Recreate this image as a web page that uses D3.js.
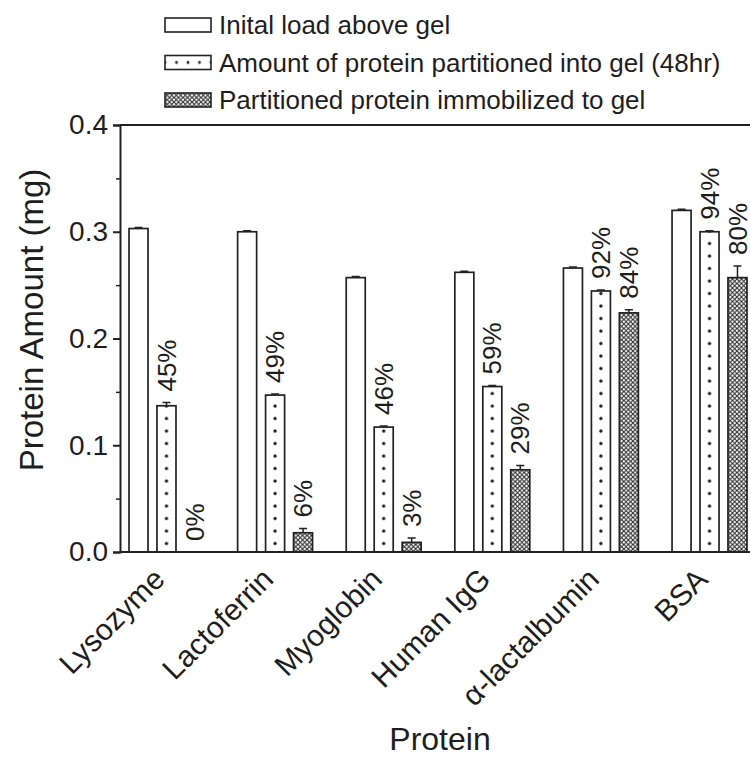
<!DOCTYPE html>
<html>
<head>
<meta charset="utf-8">
<script src="https://cdn.jsdelivr.net/npm/d3@7"></script>
<style>
  body { margin: 0; background: #fff; }
  text { font-family: "Liberation Sans", Arial, sans-serif; fill: #1e1e1e; }
</style>
</head>
<body>
<svg id="chart" width="750" height="758"></svg>
<script>
// data
var proteins = ["Lysozyme", "Lactoferrin", "Myoglobin", "Human IgG", "\u03b1-lactalbumin", "BSA"];
var seriesNames = ["Inital load above gel", "Amount of protein partitioned into gel (48hr)", "Partitioned protein immobilized to gel"];
var initialLoad = [0.303, 0.300, 0.257, 0.262, 0.266, 0.320];
var partitioned = [0.137, 0.147, 0.117, 0.155, 0.2445, 0.300];
var immobilized = [0.000, 0.018, 0.009, 0.077, 0.224, 0.257];
var initialErr = [0.001, 0.001, 0.001, 0.001, 0.001, 0.001];
var partitionedErr = [0.003, 0.001, 0.001, 0.001, 0.001, 0.001];
var immobilizedErr = [0.000, 0.004, 0.004, 0.004, 0.003, 0.011];
var partitionedPct = ["45%", "49%", "46%", "59%", "92%", "94%"];
var immobilizedPct = ["0%", "6%", "3%", "29%", "84%", "80%"];
var yTicks = [0, 0.1, 0.2, 0.3, 0.4];
var yMinorTicks = [0.05, 0.15, 0.25, 0.35];

var svg = d3.select("#chart");
var plotLeft = 120, plotRight = 756, plotTop = 125, plotBottom = 552;

var x = d3.scaleBand().domain(proteins).range([plotLeft, plotRight]).paddingInner(0.31).paddingOuter(0.083);
var xs = d3.scaleBand().domain([0, 1, 2]).range([0, x.bandwidth()]).paddingInner(0.32);
var y = d3.scaleLinear().domain([0, 0.4]).range([plotBottom, plotTop]);

var series = [
    {values: initialLoad, err: initialErr, fill: "#fff", key: "#fff", pct: null},
    {values: partitioned, err: partitionedErr, fill: "url(#dots)", key: "url(#keydots)", pct: partitionedPct},
    {values: immobilized, err: immobilizedErr, fill: "url(#hatch)", key: "url(#hatch)", pct: immobilizedPct}
];

// patterns
var defs = svg.append("defs");
var bw = xs.bandwidth();
var dots = defs.append("pattern")
    .attr("id", "dots")
    .attr("patternUnits", "userSpaceOnUse")
    .attr("width", bw).attr("height", 12.5);
dots.append("rect").attr("width", bw).attr("height", 12.5).attr("fill", "#fff");
dots.append("circle").attr("cx", bw / 2).attr("cy", 6).attr("r", 1.6).attr("fill", "#1a1a1a");

var keydots = defs.append("pattern")
    .attr("id", "keydots")
    .attr("patternUnits", "userSpaceOnUse")
    .attr("width", 11.5).attr("height", 14);
keydots.append("rect").attr("width", 11.5).attr("height", 14).attr("fill", "#fff");
keydots.append("circle").attr("cx", 0).attr("cy", 7).attr("r", 1.4).attr("fill", "#1a1a1a");
keydots.append("circle").attr("cx", 11.5).attr("cy", 7).attr("r", 1.4).attr("fill", "#1a1a1a");

var hatch = defs.append("pattern")
    .attr("id", "hatch")
    .attr("patternUnits", "userSpaceOnUse")
    .attr("width", 4.5).attr("height", 4.5);
hatch.append("rect").attr("width", 4.5).attr("height", 4.5).attr("fill", "#fff");
hatch.append("path").attr("d", "M0,0L4.5,4.5M4.5,0L0,4.5")
    .attr("stroke", "#2a2a2a").attr("stroke-width", 1.1);

// bars
var groups = svg.append("g").selectAll("g")
    .data(proteins)
    .enter().append("g")
    .attr("transform", function(d) { return "translate(" + x(d) + ",0)"; });

series.forEach(function(s, si) {
    groups.each(function(p, i) {
        var g = d3.select(this).append("g")
            .attr("transform", "translate(" + xs(si) + ",0)");
        var v = s.values[i];
        if (v > 0) {
            g.append("rect")
                .attr("x", 0)
                .attr("y", y(v))
                .attr("width", bw)
                .attr("height", y(0) - y(v))
                .attr("fill", s.fill)
                .attr("stroke", "#222")
                .attr("stroke-width", 1.7);
        }
        if (s.err[i] > 0) {
            var cx = bw / 2;
            g.append("path")
                .attr("d", "M" + cx + "," + y(v) + "V" + y(v + s.err[i]) +
                    "M" + (cx - 4) + "," + y(v + s.err[i]) + "H" + (cx + 4))
                .attr("stroke", "#222").attr("stroke-width", 1.5).attr("fill", "none");
        }
        if (s.pct) {
            var ty = y(v + s.err[i]) - 11;
            g.append("text")
                .attr("transform", "translate(" + (bw / 2) + "," + ty + ") rotate(-90)")
                .attr("dy", "0.35em")
                .attr("font-size", 26)
                .text(s.pct[i]);
        }
    });
});

// axes and frame
var frame = svg.append("g").attr("stroke", "#222").attr("stroke-width", 2);
frame.append("line").attr("x1", plotLeft).attr("x2", plotRight).attr("y1", plotTop).attr("y2", plotTop);
frame.append("line").attr("x1", plotLeft).attr("x2", plotRight).attr("y1", plotBottom).attr("y2", plotBottom);

var yAxis = svg.append("g")
    .attr("transform", "translate(" + plotLeft + ",0)")
    .call(d3.axisLeft(y).tickValues(yTicks).tickFormat(d3.format(".1f")).tickSize(7).tickPadding(5));
yAxis.select(".domain").attr("stroke", "#222").attr("stroke-width", 2);
yAxis.selectAll(".tick line").attr("stroke", "#222").attr("stroke-width", 2);
yAxis.selectAll(".tick text").attr("font-size", 28).attr("font-family", "Liberation Sans, Arial, sans-serif").attr("fill", "#1e1e1e");

svg.append("g")
    .attr("transform", "translate(" + plotLeft + ",0)")
    .call(d3.axisLeft(y).tickValues(yMinorTicks).tickFormat("").tickSize(4))
    .call(function(g) { g.select(".domain").remove(); })
    .selectAll(".tick line").attr("stroke", "#222").attr("stroke-width", 1.5);

// category labels
svg.append("g").selectAll("text")
    .data(proteins)
    .enter().append("text")
    .attr("transform", function(d) {
        return "translate(" + (x(d) + x.bandwidth() / 2) + "," + (plotBottom + 29) + ") rotate(-45)";
    })
    .attr("text-anchor", "end")
    .attr("font-size", 30)
    .text(function(d) { return d; });

// axis titles
svg.append("text")
    .attr("transform", "translate(43,320) rotate(-90)")
    .attr("text-anchor", "middle")
    .attr("font-size", 33)
    .text("Protein Amount (mg)");

svg.append("text")
    .attr("x", 440).attr("y", 750)
    .attr("text-anchor", "middle")
    .attr("font-size", 32)
    .text("Protein");

// legend
var legend = svg.append("g").selectAll("g")
    .data(seriesNames)
    .enter().append("g")
    .attr("transform", function(d, i) { return "translate(165," + (18 + i * 37.5) + ")"; });
legend.append("rect")
    .attr("width", 46).attr("height", 14)
    .attr("fill", function(d, i) { return series[i].key; })
    .attr("stroke", "#222").attr("stroke-width", 1.6);
legend.append("text")
    .attr("x", 54).attr("y", 7).attr("dy", "0.35em")
    .attr("font-size", 26)
    .text(function(d) { return d; });
</script>
</body>
</html>
